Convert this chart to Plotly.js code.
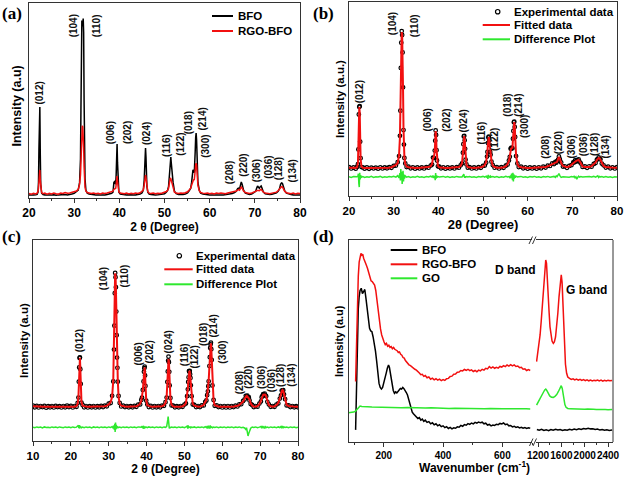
<!DOCTYPE html>
<html><head><meta charset="utf-8">
<script src="https://cdn.plot.ly/plotly-3.0.1.min.js"></script>
<style>html,body{margin:0;padding:0;background:#fff}#chart{width:625px;height:478px}</style>
</head><body><div id="chart"></div>
<script>
// ---------------- DATA ----------------
// 2θ grid (degrees) used by the XRD panels
const twoTheta = [
 20.0,20.5,21.0,21.5,21.8,
 22.0,22.1,22.2,22.3,22.4,22.5,22.6,22.8,
 23.1,23.5,24.0,24.5,25.0,25.5,26.0,26.5,27.0,27.5,28.0,28.5,29.0,29.5,30.0,30.5,
 30.9,31.2,31.4,31.5,31.6,31.7,31.8,31.9,32.0,32.1,32.2,32.3,32.4,32.6,32.9,
 33.3,33.8,34.3,34.8,35.3,35.8,36.3,36.8,37.3,37.8,38.3,
 38.6,38.8,39.0,39.2,39.3,39.4,39.5,39.6,39.7,39.9,40.2,
 40.6,41.1,41.6,42.1,42.6,43.1,43.6,44.1,44.6,45.0,
 45.3,45.5,45.6,45.7,45.8,45.9,46.0,46.1,46.3,46.6,
 47.0,47.5,48.0,48.5,49.0,49.5,50.0,50.4,
 50.7,50.9,51.0,51.1,51.2,51.3,51.4,51.5,51.6,51.7,51.9,52.2,
 52.6,53.1,53.6,54.1,54.6,55.1,55.5,
 55.8,56.0,56.2,56.3,56.4,56.6,56.7,56.8,56.9,57.0,57.1,57.2,57.4,57.7,58.0,
 58.5,59.0,59.5,60.0,60.5,61.0,61.5,62.0,62.5,63.0,63.5,64.0,64.5,65.0,65.5,
 65.9,66.2,66.4,66.6,66.8,67.0,67.2,67.5,67.9,
 68.3,68.8,69.3,69.8,
 70.2,70.4,70.6,70.8,71.0,71.2,71.4,71.6,71.9,72.3,
 72.8,73.3,73.8,74.3,74.8,75.2,
 75.5,75.7,75.9,76.1,76.3,76.6,77.0,
 77.5,78.0,78.5,79.0,79.5,80.0];
// extra low-angle points of panel (c)
const twoThetaLow = [10.0,10.5,11.0,11.5,12.0,12.5,13.0,13.5,14.0,14.5,15.0,15.5,16.0,16.5,17.0,17.5,18.0,18.5,19.0,19.5];

// (a) BFO and RGO-BFO patterns
const bfoXrd = [
 1.6,1.4,1.5,1.6,1.8,
 3.0,8.0,25,44,46.7,22,7.0,2.5,
 1.8,1.6,1.5,1.7,1.5,1.6,1.4,1.6,1.7,1.5,1.8,1.6,1.7,2.0,2.4,3.2,
 4.0,8.0,20,45,80,91,88,89,92,85,50,22,10,4.0,2.5,
 2.0,1.8,1.6,1.5,1.6,1.5,1.7,1.6,1.8,2.0,2.4,
 3.0,8.0,8.5,7.0,12,24,27.7,18,7.0,3.0,2.0,
 1.8,1.6,1.5,1.7,1.6,1.5,1.6,1.8,2.0,2.6,
 4.0,9.0,16,24,25.6,21,12,6.0,3.0,2.0,
 1.8,1.6,1.5,1.6,1.7,1.8,2.2,3.0,
 4.0,6.0,9.0,14,18,20.5,21,18,14,12,8.0,3.5,
 2.2,1.8,1.7,1.8,2.0,2.6,3.8,
 5.0,8.0,13,14.4,14,13,16,24,31,33.3,30,20,8.0,4.0,2.5,
 2.0,1.8,1.6,1.5,1.6,1.5,1.7,1.6,1.5,1.6,1.8,1.7,2.0,2.3,2.8,
 3.5,4.8,5.0,4.5,6.5,8.2,7.0,4.0,2.5,
 2.0,1.8,2.0,2.6,
 3.5,5.0,6.2,5.5,5.0,5.8,6.2,5.0,3.0,2.2,
 1.9,1.8,1.9,2.1,2.6,3.5,
 5.0,7.0,7.7,7.5,6.0,3.8,2.5,
 2.0,1.8,1.6,1.7,1.5,1.6];
const rgoBfoXrd = [
 2.3,1.9,2.4,2.1,2.5,
 3.5,5.0,10,14,14.4,9.0,4.5,2.8,
 2.2,2.5,2.0,2.4,2.1,2.6,2.2,2.0,2.5,2.3,2.8,2.4,2.6,2.9,3.0,3.6,
 4.5,7.0,12,18,28,35,37,36.5,33,26,16,9.0,5.5,3.5,2.8,
 2.6,2.3,2.5,2.2,2.4,2.1,2.5,2.3,2.6,2.8,3.0,
 3.5,4.5,5.0,5.0,7.0,10.5,11.3,8.5,5.0,3.2,2.6,
 2.4,2.2,2.5,2.1,2.4,2.2,2.6,2.3,2.7,3.2,
 4.0,6.5,9.0,11.3,11.8,10.5,7.5,5.0,3.2,2.5,
 2.3,2.6,2.2,2.4,2.3,2.6,2.8,3.3,
 4.0,5.0,6.5,8.5,10,10.3,10,9.0,7.5,6.5,4.5,3.0,
 2.6,2.3,2.5,2.4,2.7,3.2,4.2,
 5.0,6.5,8.5,9.0,9.2,9.5,11,14,17,17.9,17,13,6.5,3.8,2.8,
 2.5,2.3,2.6,2.2,2.4,2.1,2.5,2.3,2.6,2.4,2.2,2.6,2.8,3.0,3.3,
 3.6,4.0,4.3,4.0,5.0,5.6,5.0,3.6,2.8,
 2.5,2.3,2.6,3.0,
 3.4,3.9,4.1,3.9,3.8,4.2,4.5,3.8,3.0,2.6,
 2.4,2.2,2.5,2.6,3.0,3.8,
 4.6,5.5,5.8,5.7,4.8,3.5,2.7,
 2.4,2.2,2.5,2.1,2.4,2.3];

// (b) Rietveld: experimental, fitted, difference
const bExperimental = [
 14.9,14.2,14.7,14.1,15.0,
 16.4,24,42,45.9,46.3,28,19.5,14.9,
 14.8,14.1,14.7,14.0,14.6,14.2,14.6,14.1,14.8,14.2,14.7,14.3,14.9,14.5,15.5,15.7,
 17.4,20.6,31,44,66,79,85,83,74,56,34,26.5,19.6,16.8,14.9,
 15.1,14.3,14.8,14.1,14.7,14.2,14.7,14.2,14.9,14.6,15.7,
 16.2,19.8,19.7,23.4,28.5,33.8,31.5,23.6,18.3,15.3,15.1,
 14.3,14.8,14.1,14.7,14.2,14.7,14.2,14.9,14.6,15.8,
 16.8,22.3,26.7,30.7,31.0,28.7,24.3,18.7,16.3,14.6,
 14.9,14.2,14.7,14.2,14.9,14.5,15.5,15.7,
 17.2,20.3,22.7,27.3,30.2,30.6,28.7,26.3,22.7,21.3,17.7,15.9,
 14.6,14.9,14.2,14.9,14.5,15.6,16.2,
 18.3,20.2,24.4,24.5,24.9,24.6,29.5,33.5,38,38.3,35.6,30.4,20.6,16.8,14.9,
 15.1,14.3,14.8,14.1,14.7,14.2,14.7,14.1,14.8,14.3,15.1,14.7,15.6,15.5,16.8,
 16.5,17.6,17.2,17.9,18.7,20.4,19.0,17.3,15.2,
 15.3,14.5,15.5,15.9,
 17.3,17.3,18.3,17.7,18.5,18.2,18.9,17.7,16.8,15.0,
 15.2,14.5,15.3,15.1,16.5,17.0,
 18.8,19.0,19.9,19.1,18.9,16.7,15.8,
 14.7,15.1,14.3,14.8,14.2,14.9];
const bFitted = [
 14.6,14.5,14.4,14.5,14.8,
 17,26,41,45.9,43,29,19,15.2,
 14.5,14.4,14.4,14.3,14.4,14.4,14.3,14.4,14.5,14.4,14.5,14.5,14.6,14.8,15.2,16.0,
 17,21,30,45,65,80,84.5,83,75,55,35,26,20,16.5,15.2,
 14.8,14.6,14.5,14.4,14.4,14.5,14.4,14.5,14.6,14.9,15.4,
 16.5,19.5,20,23,29,33.5,31,24,18,15.6,14.8,
 14.6,14.5,14.4,14.4,14.5,14.4,14.5,14.6,14.9,15.5,
 17,22,27,30.5,30.9,29,24,19,16,14.9,
 14.6,14.5,14.4,14.5,14.6,14.8,15.2,16.0,
 17.5,20,23,27,30,30.4,29,26,23,21,18,15.6,
 14.9,14.6,14.5,14.6,14.8,15.3,16.5,
 18,20.5,24,24.7,24.5,25,29,34,37.5,38.1,36,30,21,16.5,15.2,
 14.8,14.6,14.5,14.4,14.4,14.5,14.4,14.4,14.5,14.6,14.8,15.0,15.3,15.8,16.5,
 16.8,17.3,17.5,17.6,19,20.1,19.3,17,15.5,
 15.0,14.8,15.2,16.2,
 17,17.6,18,18,18.2,18.5,18.6,18,16.5,15.3,
 14.9,14.8,15.0,15.4,16.2,17.3,
 18.5,19.3,19.6,19.4,18.6,17,15.5,
 15.0,14.8,14.6,14.5,14.5,14.6];
const bDifference = [
 9.9,9.6,10.0,9.7,9.9,
 10.3,11.5,6.5,4.6,12,8.5,10.6,9.7,
 10.0,9.6,9.9,9.7,10.1,9.6,9.9,9.8,10.1,9.6,9.9,9.7,10.0,9.8,10.2,9.7,
 10.5,9.3,11.8,8.0,13.9,8.5,12.5,6.2,10.8,13,7.5,11,9.0,10.4,9.7,
 10.0,9.6,9.9,9.7,10.1,9.7,9.9,9.6,10.0,9.8,10.2,
 9.7,10.5,9.3,10.2,8.2,11.8,9.0,10.6,9.5,10.0,9.8,
 9.9,10.1,9.7,10.0,9.6,9.9,9.7,10.1,9.8,10.0,
 9.8,10.4,10.9,11.3,10.2,9.4,10.2,9.7,10.0,9.8,
 10.0,9.7,9.9,9.6,10.0,9.8,10.1,9.7,
 10.2,9.5,10.5,8.8,10.9,9.6,10.3,9.8,9.4,10.2,9.8,10.0,
 9.7,10.0,9.6,9.9,9.7,10.1,9.8,
 10.0,9.5,10.6,9.2,11.5,8.2,12.0,7.5,11.2,9.0,10.6,9.5,10.2,9.8,9.9,
 10.1,9.7,9.9,9.6,10.0,9.8,10.1,9.7,9.9,9.6,10.0,9.8,10.1,9.7,9.9,
 10.1,9.6,10.4,10.0,10.8,11.6,10.5,9.6,9.9,
 9.8,10.0,9.7,10.0,
 9.8,10.1,9.4,9.9,8.7,9.6,10.2,9.7,10.0,9.8,
 9.9,9.7,10.0,9.8,10.1,9.7,
 9.9,10.4,9.6,10.1,9.8,10.0,9.7,
 10.0,9.7,9.9,9.6,9.9,9.8];

// (c) Rietveld: experimental, fitted, difference (10°–80°)
const cExperimental = [
 17.6,16.8,17.5,16.7,17.4,16.9,17.5,16.6,17.3,16.8,17.4,16.7,17.5,16.9,17.3,16.7,17.4,16.8,17.6,16.9,
 17.5,16.7,17.4,17.0,18.9,
 21.6,29.5,36.6,41.3,41.6,35.7,28.4,19.1,
 17.9,16.8,17.4,16.7,17.3,16.8,17.4,16.7,17.3,16.8,17.5,16.9,17.6,17.3,18.6,18.9,
 22.5,29.6,45.5,57.4,73.5,83.6,81.5,76.5,64.4,52.6,41.5,36.4,29.5,22.4,18.9,
 17.2,17.6,16.9,17.4,16.8,17.3,16.8,17.5,17.0,18.1,18.2,
 20.4,21.6,25.4,29.6,34.4,36.2,37.0,32.6,27.4,20.1,18.2,
 16.9,17.5,16.7,17.4,16.8,17.4,16.8,17.6,17.5,19.3,
 21.6,29.4,34.6,40.0,42.0,39.2,34.4,27.6,21.4,17.7,
 17.6,16.8,17.3,16.8,17.4,17.0,18.1,18.7,
 22.3,25.7,29.4,31.7,34.8,34.5,34.9,33.2,31.4,27.7,22.3,18.2,
 17.9,16.9,17.4,16.9,17.7,17.7,19.5,
 20.2,22.8,24.7,27.3,29.7,37.3,41.7,46.3,48.0,48.9,45.7,40.3,27.6,20.4,17.5,
 17.7,16.9,17.4,16.7,17.4,16.7,17.4,16.7,17.4,16.9,17.6,17.2,18.2,18.3,19.9,
 20.7,22.5,22.2,22.6,21.5,21.8,20.2,18.4,17.9,
 16.9,17.4,17.1,18.6,
 19.7,21.8,22.5,23.3,22.8,23.5,22.7,22.3,19.5,18.2,
 17.0,17.4,17.0,18.1,18.7,21.1,
 22.7,25.1,25.1,25.3,23.2,20.8,17.7,
 17.7,16.9,17.4,16.8,17.3,16.8];
const cFitted = [
 17.3,17.2,17.1,17.1,17.0,17.1,17.0,17.0,17.1,17.0,17.0,17.1,17.0,17.0,17.1,17.1,17.0,17.1,17.1,17.2,
 17.1,17.0,17.1,17.4,18.5,
 22,29,37,41,41.4,36,28,19.5,
 17.6,17.2,17.1,17.0,17.0,17.1,17.0,17.1,17.0,17.1,17.1,17.2,17.3,17.6,18.2,19.3,
 22,30,45,58,73,83.4,82,76,65,52,42,36,30,22,18.5,
 17.6,17.3,17.2,17.1,17.1,17.0,17.1,17.1,17.3,17.7,18.6,
 20,22,25,30,34,36.5,36.7,33,27,20.5,17.8,
 17.3,17.1,17.0,17.1,17.0,17.1,17.1,17.3,17.8,19.0,
 22,29,35,39.5,40.8,39.5,34,28,21,18,
 17.3,17.1,17.0,17.1,17.1,17.3,17.8,19.0,
 22,26,29,32,34.5,34.8,34.6,33.5,31,28,22,18.5,
 17.6,17.2,17.1,17.2,17.4,18.0,19.2,
 20.5,22.5,25,27,30,37,42,46,48.3,48.6,46,40,28,20,17.8,
 17.4,17.2,17.1,17.0,17.1,17.0,17.1,17.0,17.1,17.2,17.3,17.5,17.9,18.6,19.6,
 21,22.2,22.5,22.3,21.8,21.5,20.5,18.8,17.6,
 17.2,17.1,17.4,18.3,
 20,21.5,22.8,23.0,23.1,23.2,23.0,22,19.8,17.9,
 17.3,17.1,17.3,17.8,19.0,20.8,
 23,24.8,25.4,25,23.5,20.5,18.0,
 17.4,17.2,17.1,17.1,17.0,17.1];
const cDifference = [
 6.9,6.6,7.0,6.7,6.9,6.5,7.0,6.7,6.8,6.6,7.0,6.7,6.9,6.6,7.0,6.8,6.6,7.0,6.7,6.9,
 6.6,7.0,6.7,6.9,7.3,
 7.8,6.4,7.9,6.2,7.6,6.7,7.2,6.6,
 6.9,6.6,7.0,6.7,6.9,6.5,7.0,6.7,6.9,6.6,7.0,6.7,6.9,6.6,7.0,6.7,
 7.2,6.3,7.8,5.5,8.6,4.5,9.2,5.8,8.0,6.2,7.4,6.5,7.0,6.7,6.9,
 6.6,7.0,6.7,6.9,6.6,7.0,6.7,6.9,6.6,7.0,6.7,
 6.9,7.4,6.3,7.6,6.0,7.3,6.5,7.2,6.7,6.9,6.6,
 7.0,6.7,6.9,6.6,7.0,6.7,6.9,6.6,7.0,6.8,
 7.2,8.5,10.5,12.1,9.0,7.3,6.2,6.9,6.6,6.9,
 6.7,6.9,6.6,7.0,6.7,6.9,6.6,7.0,
 7.4,6.2,7.8,6.5,7.2,6.6,7.0,6.7,7.2,6.6,6.9,6.7,
 7.0,6.6,6.9,6.7,7.0,6.6,7.1,
 6.7,7.4,6.2,7.6,6.5,7.3,6.1,7.8,6.4,7.1,6.7,7.0,6.6,6.9,6.7,
 7.0,6.6,6.9,6.7,7.0,6.6,6.9,6.7,7.0,6.6,6.9,6.7,7.0,6.6,6.8,
 6.5,5.8,6.6,4.5,2.5,3.8,5.5,6.4,6.9,
 6.7,7.0,6.6,6.9,
 7.2,6.4,7.5,6.5,7.0,6.3,7.1,6.7,6.9,6.6,
 7.0,6.7,6.9,6.6,7.0,6.7,
 7.2,6.4,7.4,6.5,7.0,6.7,6.9,
 6.6,7.0,6.7,6.9,6.6,6.9];

// (d) Raman spectra, low-wavenumber window (cm-1)
const bfoRamanLowW = [105,108,111,114,117,120,124,128,132,136,140,144,148,152,156,160,164,168,172,176,180,184,188,192,196,200,204,208,212,216,219,222,225,228,232,236,240,244,248,252,256,260,264,268,272,276,280,284,288,292,296,300,305,310,315,320,325,330,335,340,346,352,358,364,370,376,382,388,394,400,406,412,418,424,430,436,442,448,454,460,466,472,478,484,490,496,502,508,514,520,526,532,538,544,550,556,562,568,574,580,586,592,598,604,610,616,622,628,634,640,646,652,658,664,670,676,682,688,694];
const bfoRamanLow = [6.0,30,52,66,72,75,76.1,73.5,74.5,75.5,71,66,61,56.3,55,54.6,52,49,45,40,33.2,29,27,26.2,27,29,31.5,34,36.5,38.1,37,34,30,28.2,25.5,24.1,24.8,24.3,25.2,25.8,26.5,26.2,27.0,26.4,25.6,24.5,23.3,21.2,18.5,16.5,14.8,14.0,13.0,12.6,11.6,12.1,10.8,11.3,10.2,10.8,9.7,10.1,9.0,9.5,8.5,9.0,8.0,8.6,7.6,8.0,7.1,7.6,6.7,7.2,6.5,7.0,6.8,7.5,7.3,8.2,7.8,8.6,8.3,9.1,8.7,9.4,9.0,9.7,9.3,9.9,9.5,9.8,9.0,9.3,8.4,8.7,8.0,8.4,8.2,8.8,8.6,9.2,8.9,9.4,8.6,8.9,8.0,8.2,7.5,7.8,7.2,7.5,7.0,7.3,6.8,7.1,6.7,7.0,6.8];
const rgoRamanLowW = [105,108,111,114,117,120,123,126,129,132,135,138,141,145,149,153,157,161,165,169,173,177,181,185,189,193,197,201,205,209,213,217,221,225,229,233,237,241,245,249,253,257,261,265,269,273,277,281,285,290,295,300,305,310,315,320,325,330,335,340,346,352,358,364,370,376,382,388,394,400,406,412,418,424,430,436,442,448,454,460,466,472,478,484,490,496,502,508,514,520,526,532,538,544,550,556,562,568,574,580,586,592,598,604,610,616,622,628,634,640,646,652,658,664,670,676,682,688,694];
const rgoRamanLow = [29.9,50,70,82,89,92,93.4,92.5,93,91,89.5,88,87.6,86,84,82,79.8,79.4,78.5,77.7,75,70,64.5,60,56,53,50.5,49.5,48.2,48.8,47.4,47.9,46.8,47.2,46.2,46.8,45.9,45.5,45.2,44.3,44.6,43.4,43.0,41.8,41.5,40.3,39.6,38.8,38.2,37.8,37.1,36.8,36.0,35.6,34.6,34.2,33.3,33.5,32.5,32.9,31.8,32.2,31.1,31.6,30.8,31.3,30.6,31.1,30.4,30.9,30.5,31.3,31.5,32.4,32.6,33.5,33.6,34.5,34.6,35.4,35.2,35.9,35.5,36.0,35.3,35.7,34.9,35.4,34.8,35.6,35.2,36.0,35.6,36.5,36.2,37.3,36.6,37.2,36.5,37.0,36.6,37.4,37.1,37.8,37.3,38.1,37.6,38.3,37.7,38.2,37.4,37.6,36.8,37.0,36.0,36.2,35.4,35.8,35.4];
const goRamanLowW = [81,90,98,104,108,112,116,120,126,134,145,160,180,200,220,240,260,280,300,320,340,360,380,400,420,440,460,480,500,520,540,560,580,600,620,640,660,680,694];
const goRamanLow = [14.5,14.6,14.8,15.2,15.8,16.8,17.5,17.8,17.6,17.4,17.5,17.3,17.2,17.3,17.1,17.2,17.0,17.1,16.9,17.0,16.8,16.9,16.7,16.8,16.6,16.7,16.6,16.7,16.5,16.6,16.5,16.6,16.4,16.5,16.4,16.5,16.3,16.4,16.3];
// (d) high-wavenumber window (D and G bands)
const bfoRamanHighW = [1180,1220,1260,1300,1340,1380,1420,1460,1500,1540,1580,1620,1660,1700,1740,1780,1820,1860,1900,1940,1980,2020,2060,2100,2140,2180,2220,2260,2300,2340,2380,2420,2470];
const bfoRamanHigh = [6.2,5.8,6.3,5.7,6.1,5.6,6.2,5.8,6.3,5.9,6.2,5.7,6.1,5.8,6.3,6.0,6.4,6.1,6.5,6.2,6.7,6.4,6.8,6.5,6.6,6.2,6.4,5.9,6.2,5.8,6.0,5.7,5.9];
const rgoRamanHighW = [1175,1195,1215,1235,1255,1275,1295,1315,1332,1345,1360,1375,1390,1405,1420,1440,1462,1480,1500,1520,1540,1560,1580,1598,1612,1625,1640,1655,1670,1690,1710,1740,1770,1800,1830,1860,1890,1920,1950,1980,2010,2040,2070,2100,2130,2160,2190,2220,2250,2280,2310,2340,2370,2400,2430,2470];
const rgoRamanHigh = [39.8,44,48,53,60,69,79,87,90.1,88.5,82,73,64,57,52.5,50,48.8,49.5,52,57,64,72,79,82.7,79,70,57,46,38.5,34,32.2,31.5,31.0,31.3,30.7,31.1,30.6,31.0,30.5,30.9,30.4,30.8,30.3,30.7,30.2,30.6,30.3,30.7,30.2,30.6,30.1,30.5,30.2,30.6,30.3,30.5];
const goRamanHighW = [1175,1200,1230,1260,1290,1315,1332,1350,1375,1400,1430,1462,1490,1520,1550,1575,1598,1615,1630,1645,1660,1680,1710,1750,1800,1850,1900,1950,2000,2050,2100,2150,2200,2250,2300,2350,2400,2470];
const goRamanHigh = [18.3,19.5,21,22.5,24.5,25.8,26.2,25.5,24,22.8,22.2,22.1,22.6,23.5,25,27,27.9,26.5,23.5,20.5,18.5,17.2,16.6,16.4,16.3,16.4,16.2,16.3,16.2,16.3,16.1,16.2,16.1,16.2,16.0,16.1,16.0,16.1];

// Miller-index labels
const hkl = ['(012)','(104)','(110)','(006)','(202)','(024)','(116)','(122)','(018)','(214)','(300)','(208)','(220)','(306)','(036)','(128)','(134)'];

// ---------------- LAYOUT HELPERS ----------------
const W = 625, H = 478;
const fx = p => p / W, fy = p => 1 - p / H;
const SANS = 'Liberation Sans, Arial, sans-serif';
const SERIF = 'Liberation Serif, Times New Roman, serif';
const RED = '#f21010', GREEN = '#2ee82e', BLACK = '#000000', FRAME = '#333333';

[[twoTheta,bfoXrd],[twoTheta,rgoBfoXrd],[twoTheta,bExperimental],[twoTheta,bFitted],[twoTheta,bDifference],
 [twoThetaLow.concat(twoTheta),cExperimental],[twoThetaLow.concat(twoTheta),cFitted],[twoThetaLow.concat(twoTheta),cDifference],
 [bfoRamanLowW,bfoRamanLow],[rgoRamanLowW,rgoRamanLow],[goRamanLowW,goRamanLow],
 [bfoRamanHighW,bfoRamanHigh],[rgoRamanHighW,rgoRamanHigh],[goRamanHighW,goRamanHigh]]
 .forEach((p,i)=>{ if(p[0].length!==p[1].length) console.error('length mismatch', i, p[0].length, p[1].length); });

function xAxis(d0, d1, range, anchor, dtick, tick0, minorD, tickSize, title, titleSize, standoff, mirror) {
  const ax = {
    domain: [fx(d0), fx(d1)], range: range, anchor: anchor,
    showline: true, mirror: mirror, linecolor: FRAME, linewidth: 1,
    ticks: 'outside', ticklen: 4, tickwidth: 1, tickcolor: FRAME,
    dtick: dtick, tick0: tick0, tickangle: 0,
    minor: {dtick: minorD, tick0: tick0, ticks: 'outside', ticklen: 2, tickwidth: 1, tickcolor: FRAME},
    showgrid: false, zeroline: false, automargin: false, fixedrange: true,
    tickfont: {family: SANS, size: tickSize, color: '#000', weight: 'bold'}
  };
  if (title) ax.title = {text: title, font: {family: SANS, size: titleSize, color: '#000', weight: 'bold'}, standoff: standoff};
  return ax;
}
function yAxis(top, bottom, anchor, mirror) {
  return {
    domain: [fy(bottom), fy(top)], range: [0, 100], anchor: anchor,
    showline: true, mirror: mirror, linecolor: FRAME, linewidth: 1,
    ticks: '', showticklabels: false, showgrid: false, zeroline: false,
    automargin: false, fixedrange: true
  };
}

// ---------------- TRACES ----------------
const lineTrace = (x, y, xa, ya, color, width) => ({x: x, y: y, xaxis: xa, yaxis: ya, type: 'scatter', mode: 'lines', line: {color: color, width: width}, hoverinfo: 'skip'});
const dotTrace = (x, y, xa, ya) => ({x: x, y: y, xaxis: xa, yaxis: ya, type: 'scatter', mode: 'markers', marker: {symbol: 'circle-open', size: 3.6, color: BLACK, line: {width: 1.2, color: BLACK}}, hoverinfo: 'skip'});
const cTheta = twoThetaLow.concat(twoTheta);

const data = [
  lineTrace(twoTheta, bfoXrd, 'x', 'y', BLACK, 1.5),
  lineTrace(twoTheta, rgoBfoXrd, 'x', 'y', RED, 1.5),
  dotTrace(twoTheta, bExperimental, 'x2', 'y2'),
  lineTrace(twoTheta, bFitted, 'x2', 'y2', RED, 2),
  lineTrace(twoTheta, bDifference, 'x2', 'y2', GREEN, 1.5),
  dotTrace(cTheta, cExperimental, 'x3', 'y3'),
  lineTrace(cTheta, cFitted, 'x3', 'y3', RED, 2),
  lineTrace(cTheta, cDifference, 'x3', 'y3', GREEN, 1.5),
  lineTrace(bfoRamanLowW, bfoRamanLow, 'x4', 'y4', BLACK, 1.5),
  lineTrace(rgoRamanLowW, rgoRamanLow, 'x4', 'y4', RED, 1.5),
  lineTrace(goRamanLowW, goRamanLow, 'x4', 'y4', GREEN, 1.5),
  lineTrace(bfoRamanHighW, bfoRamanHigh, 'x5', 'y4', BLACK, 1.5),
  lineTrace(rgoRamanHighW, rgoRamanHigh, 'x5', 'y4', RED, 1.5),
  lineTrace(goRamanHighW, goRamanHigh, 'x5', 'y4', GREEN, 1.5)
];

// ---------------- ANNOTATIONS & SHAPES ----------------
const annotations = [];
const shapes = [];
const txt = (text, x, y, size, opts) => Object.assign({text: text, xref: 'paper', yref: 'paper', x: fx(x), y: fy(y), showarrow: false,
  xanchor: 'center', yanchor: 'middle', font: {family: SANS, size: size, color: '#000', weight: 'bold'}}, opts || {});
// panel letters
[['(a)', 12, 13], ['(b)', 323, 13], ['(c)', 12, 236], ['(d)', 323, 236]].forEach(p =>
  annotations.push(txt(p[0], p[1], p[2], 17, {font: {family: SERIF, size: 17, color: '#000', weight: 'bold'}})));

// y-axis titles (rotated)
[['Intensity (a.u)', 16.5, 106, 12.5], ['Intensity (a.u.)', 340, 99, 11.5], ['Intensity (a.u)', 24, 340, 11.5], ['Intensity (a.u)', 338.5, 341.5, 11]]
  .forEach(p => annotations.push(txt(p[0], p[1], p[2], p[3], {textangle: -90})));

// peak labels (positions in data coordinates of each panel)
const labelPos = {
  a: {xa: 'x', ya: 'y', x: [22.4,29.9,34.9,38.0,41.7,45.9,50.6,53.6,55.3,58.2,59.2,64.3,67.3,70.4,73.0,75.4,78.4],
      y: [54,88.4,88.2,33.3,33.3,33.3,26.8,27.7,38.5,40.5,26.3,12.8,16.9,14,15.7,14.9,14]},
  b: {xa: 'x2', ya: 'y2', x: [22.4,29.9,34.6,37.6,41.9,45.7,49.6,52.6,55.3,57.8,59.4,64.0,66.8,69.9,72.7,75.1,77.5],
      y: [53.8,88.7,87.6,39.2,39.2,38.8,32.3,29.2,46.9,46.9,36.1,25.1,27.2,25.4,26.3,26.3,25.4]},
  c: {xa: 'x3', ya: 'y3', x: [22.5,28.8,34.3,37.8,40.7,45.7,50.1,52.8,55.1,57.8,60.0,64.4,67.1,70.3,73.2,75.3,78.2],
      y: [49.8,80.6,82.3,43.1,44.1,49.1,43.1,41.5,53.1,57.4,44.1,29.2,31.5,31.5,29.9,32.5,32.5]}
};
Object.values(labelPos).forEach(p => hkl.forEach((t, i) => annotations.push({
  text: t, xref: p.xa, yref: p.ya, x: p.x[i], y: p.y[i], textangle: -90, showarrow: false,
  xanchor: 'center', yanchor: 'middle', font: {family: SANS, size: 10, color: '#111', weight: 'bold'}})));

// manual legends
function legendLine(x0, x1, y, color) {
  shapes.push({type: 'line', xref: 'paper', yref: 'paper', x0: fx(x0), x1: fx(x1), y0: fy(y), y1: fy(y), line: {color: color, width: 2}});
}
function legendText(t, x, y) { annotations.push(txt(t, x, y, 11.5, {xanchor: 'left'})); }
function legendDot(x, y) {
  shapes.push({type: 'circle', xref: 'paper', yref: 'paper', x0: fx(x - 2.2), x1: fx(x + 2.2), y0: fy(y + 2.2), y1: fy(y - 2.2), line: {color: BLACK, width: 1.2}});
}
// (a)
legendLine(212, 233, 16, BLACK); legendText('BFO', 236, 16);
legendLine(212, 233, 31, RED); legendText('RGO-BFO', 236, 31);
// (b)
legendDot(497.7, 11.7); legendText('Experimental data', 512, 11.7);
legendLine(482.7, 510, 25, RED); legendText('Fitted data', 512, 25);
legendLine(482.7, 510, 39.3, GREEN); legendText('Difference Plot', 512, 39.3);
// (c)
legendDot(179.3, 255.7); legendText('Experimental data', 194.5, 255.7);
legendLine(164.3, 192.7, 269.3, RED); legendText('Fitted data', 194.5, 269.3);
legendLine(164.3, 192.7, 284.3, GREEN); legendText('Difference Plot', 194.5, 284.3);
// (d)
legendLine(390.7, 417.3, 250, BLACK); legendText('BFO', 420, 250);
legendLine(390.7, 417.3, 264.3, RED); legendText('RGO-BFO', 420, 264.3);
legendLine(390.7, 417.3, 278.3, GREEN); legendText('GO', 420, 278.3);

// (d) band names and x title
annotations.push(txt('D band', 515.7, 270, 12));
annotations.push(txt('G band', 586, 290, 12));
annotations.push(txt('Wavenumber (cm<sup>-1</sup>)', 474, 467, 12));

// (d) right frame edge and axis-break marks
shapes.push({type: 'line', xref: 'paper', yref: 'paper', x0: fx(613), x1: fx(613), y0: fy(442), y1: fy(240), line: {color: FRAME, width: 1}});
[[529, 244, 532.5, 236.5], [532.5, 244, 536, 236.5], [529.5, 446, 533, 438.5], [533, 446, 536.5, 438.5]].forEach(s =>
  shapes.push({type: 'line', xref: 'paper', yref: 'paper', x0: fx(s[0]), y0: fy(s[1]), x1: fx(s[2]), y1: fy(s[3]), line: {color: FRAME, width: 1}}));

const layout = {
  width: W, height: H, margin: {l: 0, r: 0, t: 0, b: 0, pad: 0},
  paper_bgcolor: '#ffffff', plot_bgcolor: '#ffffff', showlegend: false,
  font: {family: SANS, color: '#000'},
  xaxis:  xAxis(29, 300, [20, 80], 'y', 10, 0, 5, 12, '2 θ (Degree)', 12, 3, true),
  yaxis:  yAxis(3, 198, 'x', true),
  xaxis2: xAxis(349, 617, [20, 80], 'y2', 10, 0, 5, 11.5, '2θ (Degree)', 13, 1, true),
  yaxis2: yAxis(2, 196, 'x2', true),
  xaxis3: xAxis(33, 298, [10, 80], 'y3', 10, 0, 5, 11.5, '2 θ (Degree)', 12, 2, true),
  yaxis3: yAxis(240, 441, 'x3', true),
  xaxis4: xAxis(348.5, 532, [81, 700], 'y4', 200, 0, 100, 10, null, 12, 0, true),
  xaxis5: xAxis(536, 613, [1165, 2485], 'y4', 400, 1200, 200, 10, null, 12, 0, true),
  yaxis4: yAxis(240, 442, 'x4', false),
  annotations: annotations, shapes: shapes
};

Plotly.newPlot('chart', data, layout, {staticPlot: true, displayModeBar: false});
</script>
</body></html>
